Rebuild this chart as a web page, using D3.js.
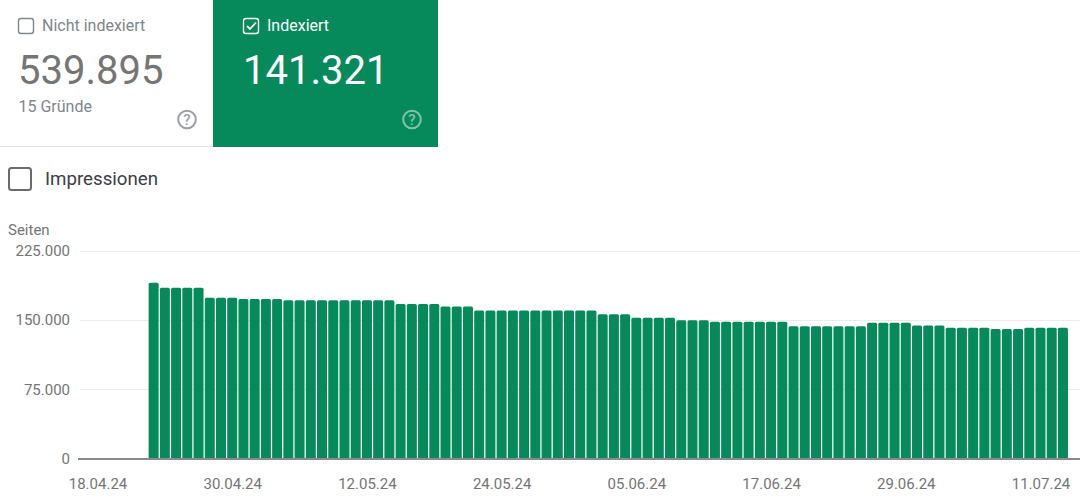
<!DOCTYPE html>
<html>
<head>
<meta charset="utf-8">
<script src="https://cdn.jsdelivr.net/npm/d3@7"></script>
<style>
  html, body { margin: 0; padding: 0; background: #fff; overflow: hidden; }
  text { font-family: Roboto, sans-serif; }
</style>
</head>
<body>
<div id="chart"></div>
<script>
const startDate = '2024-04-23';
const pages = [
  191000, 185600, 185600, 185600, 185600, 174700, 174700, 174700,
  173300, 173300, 173300, 173300, 172000, 172000, 172000, 172000,
  172000, 172000, 172000, 172000, 172000, 172000, 168000, 168000,
  168000, 168000, 165400, 165400, 165400, 161000, 161000, 161000,
  161000, 161000, 161000, 161000, 161000, 161000, 161000, 161000,
  157000, 157000, 157000, 153000, 153000, 153000, 153000, 150300,
  150300, 150300, 148800, 148800, 148800, 148800, 148800, 148800,
  148800, 143800, 143800, 143800, 143800, 143800, 143800, 143800,
  147700, 147700, 147700, 147700, 144800, 144800, 144800, 142300,
  142300, 142300, 142300, 140800, 140800, 140800, 142300, 142300,
  142300, 142300,
];
const yTicks = [0, 75000, 150000, 225000];
const xTicks = ['2024-04-18', '2024-04-30', '2024-05-12', '2024-05-24', '2024-06-05', '2024-06-17', '2024-06-29', '2024-07-11'];

const green = '#078a5b';
const width = 1080;
const height = 500;

const parseDay = d3.utcParse('%Y-%m-%d');
const first = parseDay(startDate);
const bars = pages.map((value, i) => ({ date: d3.utcDay.offset(first, i), value }));

const de = d3.formatLocale({ decimal: ',', thousands: '.', grouping: [3], currency: ['', ' €'] });

const svg = d3.select('#chart').append('svg').attr('width', width).attr('height', height).style('display', 'block');

const x = d3.scaleUtc().domain([parseDay(xTicks[0]), parseDay(xTicks[7])]).range([97.5, 1040.5]);
const y = d3.scaleLinear().domain([0, 225000]).range([459, 251.4]);

function checkbox(g, left, top, size, color, checked) {
  g.append('rect')
    .attr('x', left).attr('y', top).attr('width', size).attr('height', size).attr('rx', 2.5)
    .attr('fill', 'none').attr('stroke', color).attr('stroke-width', size > 20 ? 2 : 1.4);
  if (checked) {
    g.append('path')
      .attr('d', `M${left + 3.5},${top + 7.5}l3,3l6,-6.5`)
      .attr('fill', 'none').attr('stroke', color).attr('stroke-width', 1.8);
  }
}

function helpIcon(g, cx, cy, color) {
  g.append('circle').attr('cx', cx).attr('cy', cy).attr('r', 8.8)
    .attr('fill', 'none').attr('stroke', color).attr('stroke-width', 2);
  g.append('text').attr('x', cx).attr('y', cy + 5.2).attr('text-anchor', 'middle')
    .attr('fill', color).style('font-size', '15px').style('font-weight', 500).text('?');
}

// summary cards
const cards = svg.append('g');
cards.append('line').attr('x1', 0).attr('x2', 213).attr('y1', 146.5).attr('y2', 146.5).attr('stroke', '#dfe3e6');
cards.append('rect').attr('x', 213).attr('y', 0).attr('width', 225).attr('height', 147).attr('fill', green);

checkbox(cards, 18.5, 18.5, 15, '#80868b', false);
cards.append('text').attr('x', 42).attr('y', 31).attr('fill', '#80868b').style('font-size', '16px').text('Nicht indexiert');
cards.append('text').attr('x', 18).attr('y', 84).attr('fill', '#757575').style('font-size', '40px').text('539.895');
cards.append('text').attr('x', 18.5).attr('y', 112).attr('fill', '#80868b').style('font-size', '16px').text('15 Gründe');
helpIcon(cards, 187, 119.5, '#9aa0a6');

checkbox(cards, 243.5, 18.5, 15, '#ffffff', true);
cards.append('text').attr('x', 267).attr('y', 31).attr('fill', '#ffffff').style('font-size', '16px').text('Indexiert');
cards.append('text').attr('x', 243).attr('y', 84).attr('fill', '#ffffff').style('font-size', '40px').text('141.321');
helpIcon(cards, 412, 119.5, '#7fc4ab');

// Impressionen toggle
checkbox(cards, 9, 168, 22, '#6b6b6b', false);
cards.append('text').attr('x', 45).attr('y', 185).attr('fill', '#3c4043').style('font-size', '18.7px').text('Impressionen');

// y title
svg.append('text').attr('x', 8).attr('y', 235).attr('fill', '#757575').style('font-size', '15px').text('Seiten');

// grid
svg.append('g')
  .selectAll('line')
  .data(yTicks.filter((d) => d > 0))
  .join('line')
  .attr('x1', 80).attr('x2', width)
  .attr('y1', (d) => Math.floor(y(d)) + 0.5).attr('y2', (d) => Math.floor(y(d)) + 0.5)
  .attr('stroke', '#ececec');

// bars, rounded at the top only
const halfBar = 5;
const corner = 1.6;
svg.append('g')
  .selectAll('path')
  .data(bars)
  .join('path')
  .attr('fill', green)
  .attr('d', (d) => {
    const cx = x(d.date);
    const left = cx - halfBar;
    const right = cx + halfBar;
    const top = y(d.value);
    return `M${left},${y(0)}V${top + corner}Q${left},${top} ${left + corner},${top}H${right - corner}Q${right},${top} ${right},${top + corner}V${y(0)}Z`;
  });

// baseline
svg.append('line').attr('x1', 78).attr('x2', width).attr('y1', 459).attr('y2', 459).attr('stroke', '#8a8a8a').attr('stroke-width', 2);

// axes
const xAxis = svg.append('g')
  .attr('transform', 'translate(0,459)')
  .call(d3.axisBottom(x).tickValues(xTicks.map(parseDay)).tickFormat(d3.utcFormat('%d.%m.%y')).tickSize(0).tickPadding(19));
xAxis.select('.domain').remove();
xAxis.selectAll('text').attr('fill', '#757575').style('font-size', '15px').style('font-family', 'Roboto, sans-serif');

const yAxis = svg.append('g')
  .attr('transform', 'translate(70,-0.5)')
  .call(d3.axisLeft(y).tickValues(yTicks).tickFormat(de.format(',d')).tickSize(0).tickPadding(0));
yAxis.select('.domain').remove();
yAxis.selectAll('text').attr('fill', '#757575').style('font-size', '15px').style('font-family', 'Roboto, sans-serif');
</script>
</body>
</html>
